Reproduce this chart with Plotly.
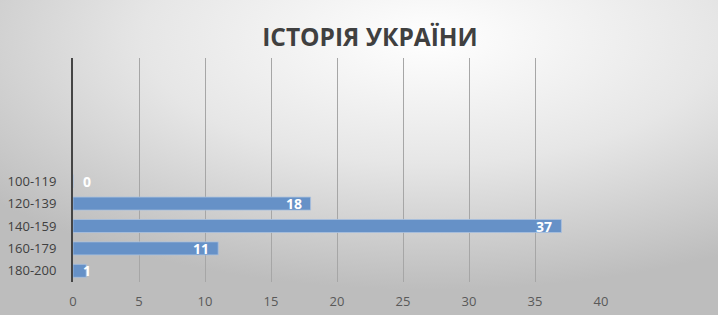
import plotly.graph_objects as go
from urllib.parse import quote

categories = ["180-200", "160-179", "140-159", "120-139", "100-119"]
values = [1, 11, 37, 18, 0]
empty_slots = [" ", "  ", "   ", "    ", "     "]
x_ticks = [0, 5, 10, 15, 20, 25, 30, 35, 40]
title = "ІСТОРІЯ УКРАЇНИ"

W, H = 718, 315
ml, mr, mt, mb = 73, 117, 58, 33
pw, ph = W - ml - mr, H - mt - mb

svg = ('<svg xmlns="http://www.w3.org/2000/svg" width="718" height="315" preserveAspectRatio="none">'
       '<defs><radialGradient id="g" cx="0.6" cy="0.12" r="0.8">'
       '<stop offset="0" stop-color="#ffffff"/><stop offset="0.5" stop-color="#e6e6e6"/>'
       '<stop offset="1" stop-color="#bdbdbd"/></radialGradient></defs>'
       '<rect width="718" height="315" fill="url(#g)"/></svg>')
src = "data:image/svg+xml;charset=utf-8," + quote(svg)

fig = go.Figure()
fig.add_trace(go.Bar(
    x=values, y=categories, orientation="h",
    marker=dict(color="#6691c7", line=dict(color="#a9c0de", width=0.8)),
    hoverinfo="skip",
))

annotations = []
for c, v in zip(categories, values):
    if v >= 5:
        annotations.append(dict(x=v, y=c, xref="x", yref="y", text=f"<b>{v}</b>",
                                showarrow=False, xanchor="right", xshift=-7,
                                font=dict(color="white", size=14, family="Open Sans")))
    else:
        annotations.append(dict(x=v, y=c, xref="x", yref="y", text=f"<b>{v}</b>",
                                showarrow=False, xanchor="center", xshift=14 if v == 0 else 1,
                                font=dict(color="white", size=14, family="Open Sans")))

fig.update_layout(
    width=W, height=H,
    margin=dict(l=ml, r=mr, t=mt, b=mb),
    paper_bgcolor="#d8d8d8",
    plot_bgcolor="rgba(0,0,0,0)",
    images=[dict(source=src, xref="paper", yref="paper",
                 x=-ml / pw, y=1 + mt / ph, sizex=W / pw, sizey=H / ph,
                 xanchor="left", yanchor="top", sizing="stretch", layer="below")],
    title=dict(text=f"<b>{title}</b>", x=370 / W, xref="container", xanchor="center",
               y=1 - 37 / H, yref="container", yanchor="middle",
               font=dict(size=24.5, color="#404040", family="Open Sans")),
    bargap=0.42,
    showlegend=False,
    annotations=annotations,
    font=dict(family="Open Sans", color="#595959", size=12),
)
fig.update_xaxes(range=[0, 40], tickvals=x_ticks, showgrid=True, gridcolor="#a6a6a6",
                 gridwidth=1, zeroline=False, showline=False, ticks="",
                 ticklabelstandoff=10, automargin=False,
                 tickfont=dict(size=13, color="#595959"), fixedrange=True)
fig.update_yaxes(type="category", categoryorder="array",
                 categoryarray=categories + empty_slots, range=[-0.5, 9.5],
                 showgrid=False, showline=True, linecolor="#454545", linewidth=2,
                 ticks="", ticklabelstandoff=12, automargin=False,
                 tickfont=dict(size=13, color="#404040"), fixedrange=True)

fig.write_html("out.html")
